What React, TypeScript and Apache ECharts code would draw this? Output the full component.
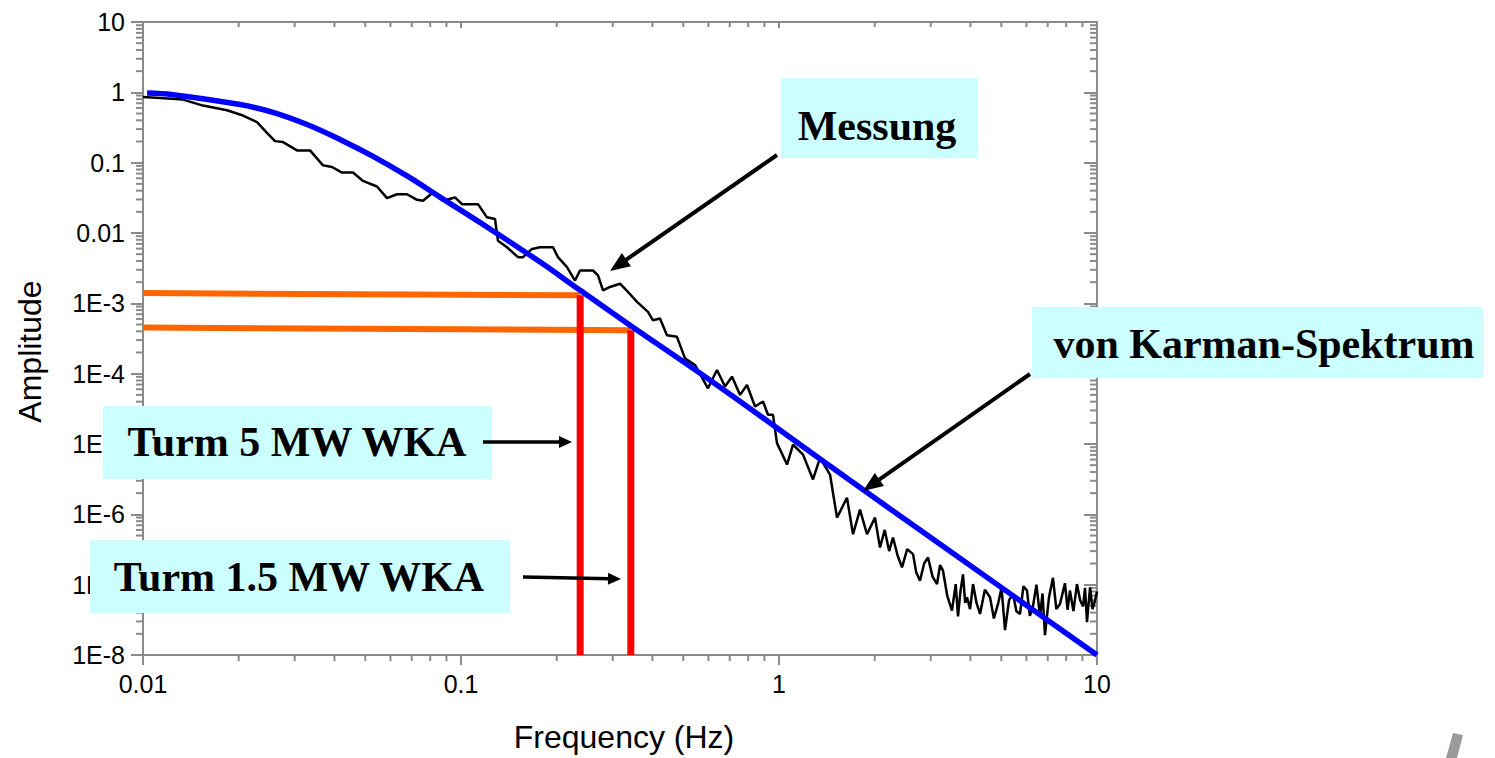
import React, { useEffect, useRef } from "react";
import * as echarts from "echarts";

// ---- data ----
const xTickLabels = ["0.01", "0.1", "1", "10"]; // exponents -2..1
const yTickLabels = ["1E-8", "1E-7", "1E-6", "1E-5", "1E-4", "1E-3", "0.01", "0.1", "1", "10"]; // exponents -8..1
const xMin = 0.01;
const xMax = 10;
const yMin = 1e-8;
const yMax = 10;

// measured spectrum (Messung): [frequency Hz, amplitude]
const measured: [number, number][] = [
  [0.01, 0.86], [0.01131, 0.832], [0.01336, 0.788], [0.01544, 0.648], [0.01837, 0.556],
  [0.02063, 0.468], [0.02283, 0.376], [0.02454, 0.266], [0.02601, 0.2024], [0.02756, 0.196],
  [0.0305, 0.1495], [0.03351, 0.1495], [0.03681, 0.0917], [0.03929, 0.0868], [0.04224, 0.0723],
  [0.04575, 0.0723], [0.04918, 0.055], [0.05443, 0.0458], [0.05852, 0.0313], [0.0629, 0.0356],
  [0.06764, 0.0356], [0.07271, 0.0296], [0.07596, 0.0287], [0.08107, 0.0368], [0.08779, 0.0287],
  [0.09574, 0.032], [0.1007, 0.0257], [0.1131, 0.0257], [0.1207, 0.0167], [0.1279, 0.0158],
  [0.1307, 0.00778], [0.1395, 0.00628], [0.1511, 0.00453], [0.1567, 0.00453], [0.1672, 0.00594],
  [0.1772, 0.00628], [0.1947, 0.00628], [0.2018, 0.00453], [0.2154, 0.00327], [0.2283, 0.00211],
  [0.2367, 0.00293], [0.2601, 0.00293], [0.2697, 0.00249], [0.2796, 0.00153], [0.2941, 0.00171],
  [0.3162, 0.0019], [0.3351, 0.00145], [0.3577, 0.00105], [0.3873, 7.55e-4], [0.4016, 5.74e-4],
  [0.4224, 6.07e-4], [0.4444, 3.52e-4], [0.4777, 3.34e-4], [0.5062, 1.65e-4], [0.5442, 1.33e-4],
  [0.5979, 6.2e-5], [0.6383, 1.13e-4], [0.6765, 6.56e-5], [0.7116, 9.08e-5], [0.7542, 4.99e-5],
  [0.7932, 6.91e-5], [0.8406, 3.42e-5], [0.8906, 4.02e-5], [0.9235, 2.6e-5], [0.9574, 2.6e-5],
  [0.9856, 1.03e-5], [1.06, 5.1e-6], [1.107, 9.78e-6], [1.19, 7.06e-6], [1.279, 3.13e-6],
  [1.346, 6.34e-6], [1.447, 3.68e-6], [1.522, 8.98e-7], [1.636, 1.72e-6], [1.709, 5.21e-7],
  [1.798, 1.165e-6], [1.891, 5.21e-7], [2.004, 8.98e-7], [2.04, 5.5e-7], [2.078, 3.38e-7],
  [2.15, 6.0e-7], [2.22, 3.0e-7], [2.283, 4.68e-7], [2.36, 2.6e-7], [2.437, 1.76e-7],
  [2.53, 3.2e-7], [2.639, 2.72e-7], [2.7, 1.5e-7], [2.776, 1.14e-7], [2.86, 2.0e-7],
  [2.942, 2.44e-7], [3.04, 1.3e-7], [3.14, 1.02e-7], [3.21, 1.9e-7], [3.279, 1.58e-7],
  [3.38, 7.0e-8], [3.499, 4.29e-8], [3.595, 1.02e-7], [3.655, 3.54e-8], [3.72, 8.0e-8],
  [3.79, 1.4e-7], [3.85, 5.5e-8], [3.901, 6.62e-8], [3.99, 4.5e-8], [4.075, 1.02e-7],
  [4.18, 5.5e-8], [4.287, 3.84e-8], [4.44, 8.5e-8], [4.608, 6.62e-8], [4.74, 3.3e-8],
  [4.884, 5.32e-8], [5.01, 9.0e-8], [5.137, 2.26e-8], [5.29, 6.0e-8], [5.443, 7.38e-8],
  [5.58, 4.2e-8], [5.727, 3.84e-8], [5.87, 9.5e-8], [6.024, 8.24e-8], [6.15, 3.6e-8],
  [6.29, 4.91e-8], [6.45, 1.0e-7], [6.62, 3.54e-8], [6.74, 7.5e-8], [6.86, 1.92e-8],
  [7.06, 6.5e-8], [7.27, 1.25e-7], [7.45, 4.5e-8], [7.65, 5.32e-8], [7.93, 1.05e-7],
  [8.08, 4.4e-8], [8.22, 8.24e-8], [8.43, 4.2e-8], [8.65, 1.02e-7], [8.85, 6.0e-8],
  [9.04, 4.91e-8], [9.17, 9.0e-8], [9.3, 2.93e-8], [9.51, 9.18e-8], [9.68, 4.5e-8],
  [9.86, 5.94e-8], [10, 8.0e-8],
];

// von Karman spectrum: [frequency Hz, amplitude]
const karman: [number, number][] = [
  [0.0103, 0.98], [0.01243, 0.927], [0.0202, 0.67], [0.02563, 0.52], [0.0328, 0.349],
  [0.04163, 0.214], [0.0529, 0.123], [0.06764, 0.0647], [0.0859, 0.0324], [0.1234, 0.0114],
  [0.177, 0.00389], [0.237, 1.53e-3], [0.34, 4.88e-4], [0.565, 1.01e-4], [0.957, 1.86e-5],
  [1.84, 2.23e-6], [10, 1e-8],
];

// tower eigenfrequencies (5 MW, 1.5 MW) and their amplitude levels
const towerNames = ["Turm 5 MW WKA", "Turm 1.5 MW WKA"];
const towerFreq = [0.237, 0.342];
const towerAmpLeft = [1.4e-3, 4.53e-4];
const towerAmpRight = [1.3e-3, 4.15e-4];

// ---- styling ----
const axisColor = "#8a8a8a";
const sans = '"Liberation Sans", Arial, sans-serif';
const serif = '"Liberation Serif", "Times New Roman", serif';

function decadeMinors(lo: number, hi: number): number[] {
  const out: number[] = [];
  for (let e = lo; e < hi; e++) {
    for (let m = 2; m <= 9; m++) out.push(m * Math.pow(10, e));
  }
  return out;
}
const xMinor = decadeMinors(-2, 1);
const yMinor = decadeMinors(-8, 1);

function expOf(v: number) {
  return Math.round(Math.log10(v));
}

function arrow(x1: number, y1: number, x2: number, y2: number, w: number, head: number, half: number) {
  const dx = x2 - x1;
  const dy = y2 - y1;
  const len = Math.hypot(dx, dy);
  const ux = dx / len;
  const uy = dy / len;
  const bx = x2 - ux * head;
  const by = y2 - uy * head;
  const px = -uy;
  const py = ux;
  return [
    {
      type: "line",
      z: 100,
      shape: { x1, y1, x2: bx + ux * 2, y2: by + uy * 2 },
      style: { stroke: "#000", lineWidth: w },
    },
    {
      type: "polygon",
      z: 100,
      shape: {
        points: [
          [x2, y2],
          [bx + px * half, by + py * half],
          [bx - px * half, by - py * half],
        ],
      },
      style: { fill: "#000" },
    },
  ];
}

function box(x: number, y: number, w: number, h: number, text: string, cx: number, cy: number) {
  return [
    { type: "rect", z: 100, shape: { x, y, width: w, height: h }, style: { fill: "#ccffff" } },
    {
      type: "text",
      z: 101,
      x: cx,
      y: cy,
      style: {
        text,
        font: `bold 42px ${serif}`,
        fill: "#000",
        align: "center",
        verticalAlign: "middle",
      },
    },
  ];
}

export default function App() {
  const ref = useRef<HTMLDivElement>(null);
  useEffect(() => {
    const chart = echarts.init(ref.current!, null, { renderer: "svg" });
    const xAxisCommon = {
      type: "log" as const,
      logBase: 10,
      min: xMin,
      max: xMax,
      splitLine: { show: false },
      axisLine: { show: true, lineStyle: { color: axisColor, width: 2 } },
    };
    const yAxisCommon = {
      type: "log" as const,
      logBase: 10,
      min: yMin,
      max: yMax,
      splitLine: { show: false },
      axisLine: { show: true, lineStyle: { color: axisColor, width: 2 } },
    };
    const option: any = {
      animation: false,
      backgroundColor: "#fff",
      grid: { left: 143, right: 398, top: 22, bottom: 100, containLabel: false },
      xAxis: [
        {
          ...xAxisCommon,
          position: "bottom",
          name: "Frequency (Hz)",
          nameLocation: "middle",
          nameGap: 66,
          nameTextStyle: { fontFamily: sans, fontSize: 32, color: "#000", padding: [0, 0, 0, 8] },
          axisTick: { show: true, inside: false, length: 10, lineStyle: { color: axisColor, width: 2 } },
          axisLabel: {
            fontFamily: sans,
            fontSize: 25,
            color: "#000",
            margin: 16,
            formatter: (v: number) => xTickLabels[expOf(v) + 2] ?? "",
          },
        },
        {
          ...xAxisCommon,
          position: "top",
          axisTick: { show: true, inside: true, length: 6, lineStyle: { color: axisColor, width: 2 } },
          axisLabel: { show: false },
        },
      ],
      yAxis: [
        {
          ...yAxisCommon,
          position: "left",
          name: "Amplitude",
          nameLocation: "middle",
          nameGap: 97,
          nameRotate: 90,
          nameTextStyle: { fontFamily: sans, fontSize: 32, color: "#000", padding: [0, 26, 0, 0] },
          axisTick: { show: true, inside: false, length: 12, lineStyle: { color: axisColor, width: 2 } },
          axisLabel: {
            fontFamily: sans,
            fontSize: 25,
            color: "#000",
            margin: 18,
            formatter: (v: number) => yTickLabels[expOf(v) + 8] ?? "",
          },
        },
        {
          ...yAxisCommon,
          position: "right",
          axisTick: { show: true, inside: true, length: 13, lineStyle: { color: axisColor, width: 2 } },
          axisLabel: { show: false },
        },
      ],
      series: [
        {
          type: "custom",
          name: "xMinorTicks",
          clip: false,
          silent: true,
          data: xMinor.map((v) => [v, 1]),
          encode: { x: 0, y: 1 },
          renderItem: (params: any, api: any) => {
            const v = api.value(0);
            const b = api.coord([v, yMin]);
            const t = api.coord([v, yMax]);
            return {
              type: "group",
              children: [
                { type: "line", shape: { x1: b[0], y1: b[1], x2: b[0], y2: b[1] + 6 }, style: { stroke: axisColor, lineWidth: 2 } },
                { type: "line", shape: { x1: t[0], y1: t[1], x2: t[0], y2: t[1] + 5 }, style: { stroke: axisColor, lineWidth: 2 } },
              ],
            };
          },
        },
        {
          type: "custom",
          name: "yMinorTicks",
          clip: false,
          silent: true,
          data: yMinor.map((v) => [1, v]),
          encode: { x: 0, y: 1 },
          renderItem: (params: any, api: any) => {
            const v = api.value(1);
            const l = api.coord([xMin, v]);
            const r = api.coord([xMax, v]);
            return {
              type: "group",
              children: [
                { type: "line", shape: { x1: l[0] - 7, y1: l[1], x2: l[0], y2: l[1] }, style: { stroke: axisColor, lineWidth: 2 } },
                { type: "line", shape: { x1: r[0] - 7, y1: r[1], x2: r[0], y2: r[1] }, style: { stroke: axisColor, lineWidth: 2 } },
              ],
            };
          },
        },
        {
          type: "line",
          name: "Messung",
          data: measured,
          showSymbol: false,
          lineStyle: { color: "#000", width: 2.5 },
          z: 3,
        },
        ...towerFreq.map((f, i) => ({
          type: "line",
          name: towerNames[i] + " level",
          data: [
            [xMin, towerAmpLeft[i]],
            [f, towerAmpRight[i]],
          ],
          showSymbol: false,
          lineStyle: { color: "#ff6600", width: 6 },
          z: 4,
        })),
        ...towerFreq.map((f, i) => ({
          type: "line",
          name: towerNames[i],
          data: [
            [f, towerAmpRight[i]],
            [f, yMin],
          ],
          showSymbol: false,
          lineStyle: { color: "#ff0000", width: 7 },
          z: 5,
        })),
        {
          type: "line",
          name: "von Karman-Spektrum",
          data: karman,
          showSymbol: false,
          smooth: 0.4,
          lineStyle: { color: "#0000ff", width: 5.5 },
          z: 6,
        },
      ],
      graphic: [
        ...box(781, 78, 197, 80, "Messung", 877, 126),
        ...box(1032, 307, 451, 71, "von Karman-Spektrum", 1264, 344),
        ...box(103, 406, 389, 73, towerNames[0], 297, 442),
        ...box(90, 540, 420, 73, towerNames[1], 299, 577),
        ...arrow(777, 155, 610, 271, 4, 20, 8),
        ...arrow(1030, 374, 863, 491, 4, 20, 8),
        ...arrow(483, 442, 572, 442, 3.5, 13, 6),
        ...arrow(523, 577, 621, 579, 3.5, 13, 6),
        {
          type: "polygon",
          z: 100,
          shape: { points: [[1453, 733], [1463, 735], [1457, 758], [1446, 758]] },
          style: { fill: "#9a9a9a" },
        },
      ],
    };
    chart.setOption(option);
    return () => chart.dispose();
  }, []);
  return (
    <div
      ref={ref}
      style={{ position: "fixed", left: 0, top: 0, width: 1495, height: 758, background: "#fff" }}
    />
  );
}
